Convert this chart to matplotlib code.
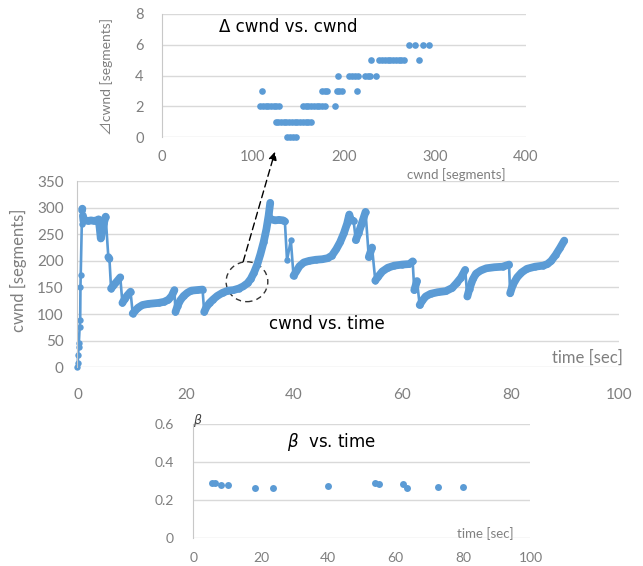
import matplotlib
matplotlib.use("Agg")
import matplotlib.pyplot as plt
from matplotlib.patches import Ellipse, ConnectionPatch

BLUE = '#5b9bd5'
GRID = '#d9d9d9'
TICK = '#7f7f7f'
LABEL_FONT = ['Lato', 'Noto Sans CJK JP', 'DejaVu Sans']
TITLE_FONT = ['DejaVu Sans', 'Noto Sans CJK JP']

# cwnd trace (time [sec], cwnd [segments])
time_sec = [0.0, 0.05, 0.1, 0.2, 0.25, 0.4, 0.5, 0.55, 0.6, 0.8, 0.85, 0.9, 1.0, 1.1,
            1.5, 2.0, 2.5, 3.0, 3.5, 3.9, 4.1, 4.3, 4.6, 4.9, 5.2, 5.7, 5.9, 6.2,
            6.5, 7.0, 7.5, 7.9, 8.3, 8.7, 9.2, 9.8, 10.2, 10.6, 11.2, 12.0, 13.0,
            14.0, 15.0, 16.0, 16.8, 17.4, 17.9, 18.1, 18.5, 19.0, 19.6, 20.3, 21.0,
            22.0, 23.1, 23.4, 23.8, 24.4, 25.0, 25.8, 26.8, 27.8, 28.8, 29.8, 30.6,
            31.4, 32.0, 32.6, 33.2, 33.8, 34.4, 34.9, 35.3, 35.6, 35.8, 36.5, 37.2,
            38.0, 38.3, 38.7, 39.4, 39.9, 40.4, 41.0, 41.8, 42.8, 44.0, 45.2, 46.2,
            47.0, 47.8, 48.5, 49.2, 49.8, 50.2, 50.5, 51.0, 51.4, 51.9, 52.5, 53.2,
            53.8, 54.4, 55.0, 55.5, 56.3, 57.3, 58.5, 60.0, 61.3, 61.9, 62.2, 62.7,
            63.2, 63.6, 64.3, 65.2, 66.5, 68.0, 69.2, 70.0, 70.8, 71.6, 72.0, 72.4,
            73.0, 73.6, 74.5, 75.5, 77.0, 78.5, 79.7, 79.9, 80.4, 81.2, 82.0, 83.0,
            84.5, 86.0, 86.8, 87.5, 88.3, 89.1, 89.9]
cwnd = [0, 8, 23, 39, 45, 76, 89, 151, 174, 270, 295, 298, 285, 275,
        276, 275, 276, 275, 276, 278, 262, 242, 255, 272, 283, 207, 204, 148,
        152, 158, 164, 169, 121, 128, 135, 142, 101, 106, 112, 117, 119,
        120, 121, 123, 127, 134, 145, 104, 116, 126, 134, 140, 144,
        145, 146, 104, 113, 121, 127, 134, 140, 144, 145, 148, 152,
        158, 166, 178, 193, 213, 236, 260, 285, 309, 278, 276, 277,
        276, 274, 201, 239, 172, 180, 190, 197, 200, 202, 203, 205,
        210, 222, 235, 252, 270, 287, 276, 275, 239, 252, 270, 292,
        207, 225, 163, 170, 180, 187, 191, 193, 194, 199, 145, 162,
        117, 124, 133, 138, 141, 143, 149, 158, 168, 183, 133, 148,
        165, 176, 182, 186, 188, 189, 193, 139, 155, 169, 178, 185,
        189, 191, 194, 200, 211, 224, 238]

# delta cwnd levels and the cwnd values at which they occur
d0_cwnd = [138, 141, 144, 147]
d1_cwnd = [125, 128, 131, 134, 137, 140, 143, 146, 149, 152, 155, 158, 161, 164]
d2_cwnd = [108, 111, 114, 117, 120, 123, 126, 129, 155, 158, 161, 164, 167, 170,
           173, 176, 179, 190]
d3_cwnd = [110, 176, 179, 182, 192, 195, 198, 214]
d4_cwnd = [194, 206, 209, 212, 215, 223, 226, 229, 235]
d5_cwnd = [230, 239, 242, 245, 248, 251, 254, 257, 260, 263, 266, 282]
d6_cwnd = [271, 278, 287, 294]

# beta at each loss event
beta_time = [5.4, 6.4, 8.1, 10.3, 18.2, 23.7, 40.0, 53.9, 55.1, 62.3, 63.4, 72.5, 80.1]
beta = [0.292, 0.292, 0.278, 0.280, 0.262, 0.262, 0.275, 0.292, 0.285, 0.285,
        0.262, 0.269, 0.268]


def style_axes(ax, tick_size, ypad, xpad):
    for side in ['top', 'right', 'bottom']:
        ax.spines[side].set_visible(False)
    ax.spines['left'].set_color('#c8c8c8')
    ax.yaxis.grid(True, color=GRID, lw=1)
    ax.set_axisbelow(True)
    ax.tick_params(length=0, labelcolor=TICK, labelsize=tick_size)
    ax.tick_params(axis='y', pad=ypad)
    ax.tick_params(axis='x', pad=xpad)
    for lab in ax.get_xticklabels() + ax.get_yticklabels():
        lab.set_family(LABEL_FONT)


fig = plt.figure(figsize=(6.43, 5.66), dpi=100)

# ---- delta cwnd vs cwnd ----
ax_top = fig.add_axes([0.2515, 0.7574, 0.5666, 0.2179])
levels = [d0_cwnd, d1_cwnd, d2_cwnd, d3_cwnd, d4_cwnd, d5_cwnd, d6_cwnd]
for lvl, xs in enumerate(levels):
    ax_top.plot(xs, [lvl] * len(xs), 'o', color=BLUE, ms=4.8, mew=0, clip_on=False)
ax_top.set_xlim(0, 400)
ax_top.set_ylim(0, 8)
ax_top.set_xticks(range(0, 401, 100))
ax_top.set_yticks(range(0, 9, 2))
style_axes(ax_top, 10.5, 13, 9)
ax_top.set_xlabel('cwnd [segments]', color=TICK, fontsize=9.5, family=LABEL_FONT,
                  ha='right', va='center')
ax_top.xaxis.set_label_coords(0.945, -0.298)
ax_top.set_ylabel('⊿cwnd [segments]', color=TICK, fontsize=10, family=LABEL_FONT,
                  va='center')
ax_top.yaxis.set_label_coords(-0.151, 0.497)
ax_top.text(0.158, 0.897, 'Δ cwnd vs. cwnd', transform=ax_top.transAxes,
            fontsize=12, family=TITLE_FONT, ha='left', va='center')

# ---- cwnd vs time ----
ax = fig.add_axes([0.1205, 0.3511, 0.8421, 0.3291])
ax.plot(time_sec, cwnd, '-o', color=BLUE, lw=1.9, ms=4.6, mew=0, clip_on=False)
# slow-growth stretches are densely sampled and show up as a thick band;
# steep jumps (drops, slow start) stay as a thin line
runs, cur = [], [0]
for i in range(1, len(cwnd)):
    dv = abs(cwnd[i] - cwnd[i - 1])
    dt = time_sec[i] - time_sec[i - 1]
    if dv <= 30 and dv / dt <= 110:
        cur.append(i)
    else:
        if len(cur) > 1:
            runs.append(cur)
        cur = [i]
if len(cur) > 1:
    runs.append(cur)
for r in runs:
    ax.plot([time_sec[i] for i in r], [cwnd[i] for i in r], color=BLUE, lw=5.6,
            solid_capstyle='round', solid_joinstyle='round', clip_on=False)
ax.set_xlim(0, 100)
ax.set_ylim(0, 350)
ax.set_xticks(range(0, 101, 20))
ax.set_yticks(range(0, 351, 50))
style_axes(ax, 11, 10, 15)
ax.set_xlabel('time [sec]', color=TICK, fontsize=12, family=LABEL_FONT,
              ha='right', va='center')
ax.xaxis.set_label_coords(1.007, 0.052)
ax.set_ylabel('cwnd [segments]', color=TICK, fontsize=12, family=LABEL_FONT,
              va='center')
ax.yaxis.set_label_coords(-0.109, 0.522)
ax.text(0.3537, 0.232, 'cwnd vs. time', transform=ax.transAxes,
        fontsize=12, family=TITLE_FONT, ha='left', va='center')

# dashed circle around the slow-start region and pointer to the inset
ax.add_patch(Ellipse((31.3, 160.8), 7.7, 75, fill=False, ls=(0, (4, 3)),
                     ec='#333333', lw=1))
arrow = ConnectionPatch(xyA=(30.6, 198.4), coordsA=ax.transData,
                        xyB=(124.4, -0.93), coordsB=ax_top.transData,
                        arrowstyle='-|>', mutation_scale=12, ls=(0, (5, 3)),
                        color='black', lw=1)
fig.add_artist(arrow)

# ---- beta vs time ----
ax_b = fig.add_axes([0.3009, 0.0489, 0.5241, 0.2020])
ax_b.plot(beta_time, beta, 'o', color=BLUE, ms=5, mew=0)
ax_b.set_xlim(0, 100)
ax_b.set_ylim(0, 0.6)
ax_b.set_xticks(range(0, 101, 20))
ax_b.set_yticks([0, 0.2, 0.4, 0.6])
ax_b.set_yticklabels(['0', '0.2', '0.4', '0.6'])
style_axes(ax_b, 10, 14, 10)
ax_b.set_xlabel('time [sec]', color=TICK, fontsize=9.5, family=LABEL_FONT,
                ha='right', va='center')
ax_b.xaxis.set_label_coords(0.949, 0.038)
ax_b.text(0.014, 1.029, r'$\beta$', transform=ax_b.transAxes, fontsize=9,
          color='#404040', ha='center', va='center')
ax_b.text(0.2766, 0.84, r'$\beta$  vs. time', transform=ax_b.transAxes,
          fontsize=12, family=TITLE_FONT, ha='left', va='center')

fig.savefig('out.png', dpi=100)
